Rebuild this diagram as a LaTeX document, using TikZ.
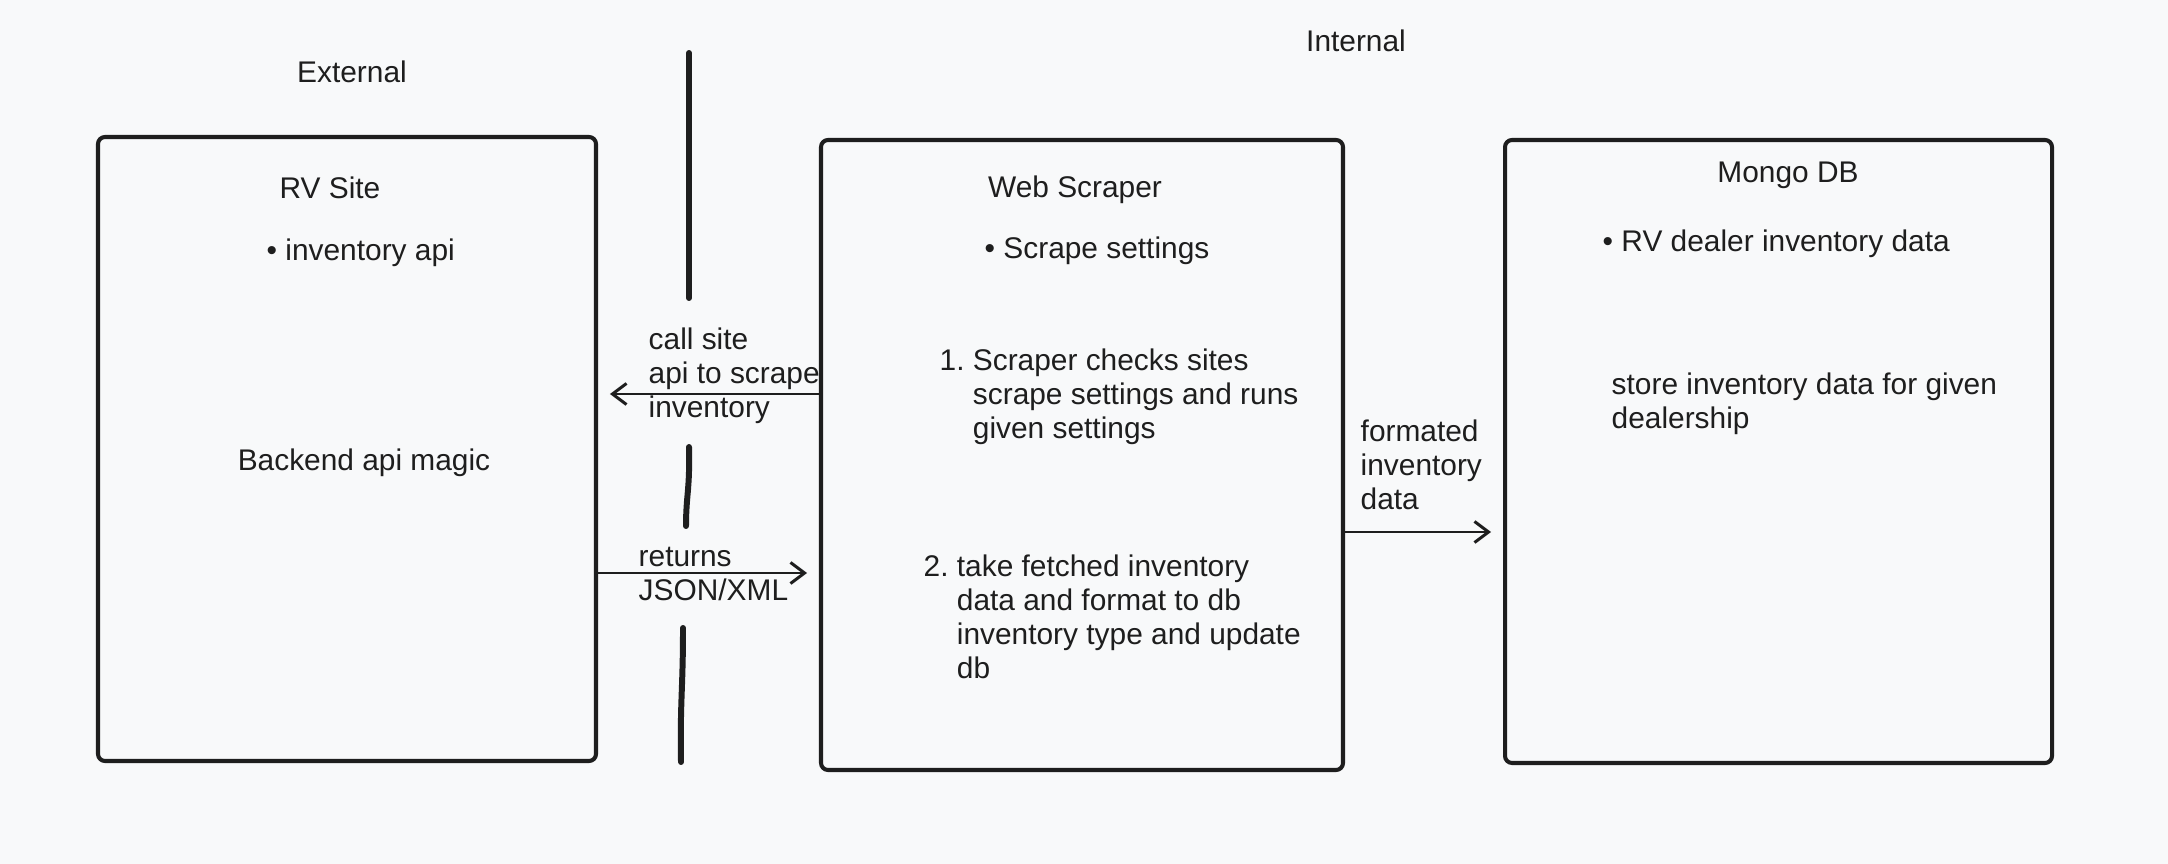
\documentclass[tikz,border=0pt]{standalone}
\usepackage{fontspec}
\setmainfont{Liberation Sans}
\usetikzlibrary{arrows.meta}

\definecolor{ink}{HTML}{1E1E1E}
\definecolor{paper}{HTML}{F8F9FA}

\tikzset{
  sysbox/.style={draw=ink, line width=1.15pt, rounded corners=2pt, inner sep=0pt},
  txt/.style={text=ink, inner sep=0pt, align=left, font=\fontsize{8.5}{9.7}\selectfont},
  flow/.style={draw=ink, line width=0.85pt, line cap=round, -{Straight Barb[length=4pt,width=6pt]}, shorten >=3.4pt},
  wall/.style={draw=ink, line width=1.7pt, line cap=round}
}

\begin{document}
\begin{tikzpicture}

    \fill[paper] (0,0) rectangle (21.68,-8.64);

    \draw(3.47,-4.49) node[sysbox, minimum width=4.98cm, minimum height=6.24cm] (rvsite) {};
    \draw(10.82,-4.55) node[sysbox, minimum width=5.22cm, minimum height=6.30cm] (scraper) {};
    \draw(17.785,-4.515) node[sysbox, minimum width=5.47cm, minimum height=6.23cm] (mongo) {};

    \draw(3.52,-0.72) node[txt] (ext) {External};
    \draw(13.56,-0.41) node[txt] (int) {Internal};

    \draw(3.30,-1.88) node[txt] (rvtitle) {RV Site};
    \draw(2.66,-2.53) node[txt, anchor=west] (rvapi) {\textbullet\ inventory api};
    \draw(3.64,-4.63) node[txt] (rvmagic) {Backend api magic};

    \draw(10.75,-1.90) node[txt] (sctitle) {Web Scraper};
    \draw(9.84,-2.51) node[txt, anchor=west] (scset) {\textbullet\ Scrape settings};
    \draw(9.39,-3.97) node[txt, anchor=west] (scone) {1.~Scraper checks sites\\\hphantom{1.~}scrape settings and runs\\\hphantom{1.~}given settings};
    \draw(9.23,-6.17) node[txt, anchor=west] (sctwo) {2.~take fetched inventory\\\hphantom{2.~}data and format to db\\\hphantom{2.~}inventory type and update\\\hphantom{2.~}db};

    \draw(17.88,-1.75) node[txt] (dbtitle) {Mongo DB};
    \draw(16.02,-2.44) node[txt, anchor=west] (dbdata) {\textbullet\ RV dealer inventory data};
    \draw(16.11,-4.04) node[txt, anchor=west] (dbstore) {store inventory data for given\\dealership};

    \draw[wall] (6.89,-0.53) -- (6.89,-2.98);
    \draw[wall] (6.89,-4.47) .. controls (6.90,-4.90) and (6.86,-4.95) .. (6.86,-5.26);
    \draw[wall] (6.83,-6.28) .. controls (6.83,-6.90) and (6.80,-7.00) .. (6.81,-7.62);

    \draw[flow] (scraper.west |- 0,-3.94) -- (rvsite.east |- 0,-3.94);
    \draw(6.48,-3.76) node[txt, anchor=west] (callsite) {call site\\api to scrape\\inventory};

    \draw[flow] (rvsite.east |- 0,-5.73) -- (scraper.west |- 0,-5.73);
    \draw(6.38,-5.74) node[txt, anchor=west] (returns) {returns\\JSON/XML};

    \draw[flow] (scraper.east |- 0,-5.32) -- (mongo.west |- 0,-5.32);
    \draw(13.60,-4.65) node[txt, anchor=west] (formated) {formated\\inventory\\data};

\end{tikzpicture}
\end{document}
